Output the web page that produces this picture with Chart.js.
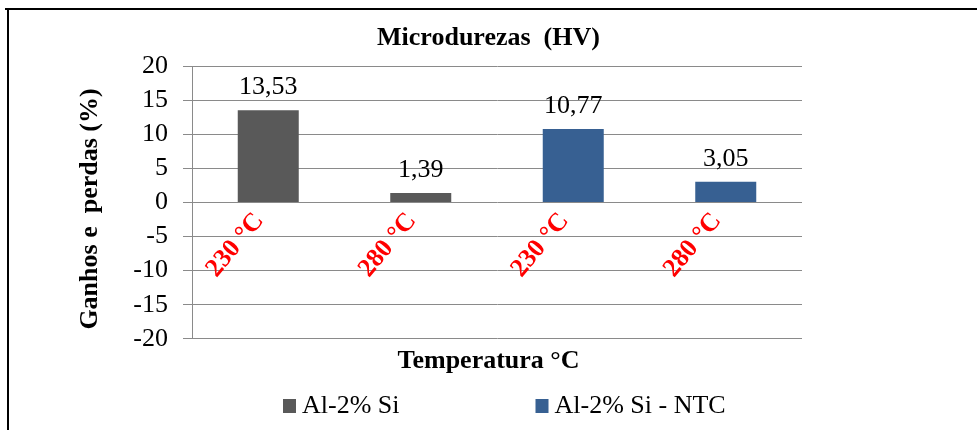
<!DOCTYPE html>
<html>
<head>
<meta charset="utf-8">
<script src="https://cdn.jsdelivr.net/npm/chart.js@4.4.1/dist/chart.umd.min.js"></script>
<style>
  html, body { margin: 0; padding: 0; background: #fff; }
</style>
</head>
<body>
<canvas id="micro" width="977" height="430"></canvas>
<script>
//Data
const temps = ["230 °C", "280 °C", "230 °C", "280 °C"];
const seriesNames = ["Al-2% Si", "Al-2% Si - NTC"];
const alSi = [13.53, 1.39, null, null];
const alSiNtc = [null, null, 10.77, 3.05];
const yMin = -20, yMax = 20, yStep = 5;

const serif = "'Liberation Serif', 'Times New Roman', serif";
const colGray = "#595959";
const colBlue = "#376092";
const gridCol = "#8a8a8a";

//------------------------------------------

//white background + frame lines (top and left only)
const frame = {
  id: 'frame',
  beforeDraw(chart) {
    const {ctx, width, height} = chart;
    ctx.save();
    ctx.fillStyle = '#fff';
    ctx.fillRect(0, 0, width, height);
    ctx.fillStyle = '#000';
    ctx.fillRect(5, 8, width - 5, 2);
    ctx.fillRect(7, 8, 2, height - 8);
    ctx.restore();
  }
};

//value labels above the bars
const valueLabels = {
  id: 'valueLabels',
  afterDatasetsDraw(chart) {
    const {ctx} = chart;
    ctx.save();
    ctx.font = '26px ' + serif;
    ctx.fillStyle = '#000';
    ctx.textAlign = 'center';
    ctx.textBaseline = 'alphabetic';
    chart.data.datasets.forEach((ds, i) => {
      chart.getDatasetMeta(i).data.forEach((bar, j) => {
        const v = ds.data[j];
        if (v === null) return;
        ctx.fillText(v.toFixed(2).replace('.', ','), bar.x, bar.y - 16);
      });
    });
    ctx.restore();
  }
};

//legend at the bottom, spaced like the original
const bottomLegend = {
  id: 'bottomLegend',
  afterDraw(chart) {
    const {ctx} = chart;
    ctx.save();
    ctx.font = '26px ' + serif;
    ctx.textBaseline = 'alphabetic';
    ctx.textAlign = 'left';
    let x = 283;
    const y = 413;
    chart.data.datasets.forEach(ds => {
      ctx.fillStyle = ds.backgroundColor;
      ctx.fillRect(x, y - 14, 13, 14);
      ctx.fillStyle = '#000';
      ctx.fillText(ds.label, x + 19, y);
      x += 19 + ctx.measureText(ds.label).width + 136;
    });
    ctx.restore();
  }
};

//------------------------------------------
const data = {
  labels: temps,
  datasets: [
    {label: seriesNames[0], data: alSi, backgroundColor: colGray},
    {label: seriesNames[1], data: alSiNtc, backgroundColor: colBlue}
  ]
};

const config = {
  type: 'bar',
  data: data,
  options: {
    responsive: false,
    animation: false,
    grouped: false,
    barPercentage: 0.4,
    categoryPercentage: 1.0,
    layout: {padding: {top: 10, left: 0, right: 0, bottom: 53}},
    scales: {
      x: {
        position: {y: 0},
        grid: {display: false, drawTicks: false},
        border: {display: false},
        ticks: {
          color: '#ff0000',
          font: {family: serif, size: 26, weight: 'bold'},
          minRotation: 50, maxRotation: 50,
          autoSkip: false,
          labelOffset: -9,
          padding: 4
        }
      },
      y: {
        min: yMin, max: yMax,
        ticks: {stepSize: yStep, autoSkip: false, color: '#000', font: {family: serif, size: 26}, padding: 15},
        grid: {color: gridCol, lineWidth: 1, tickLength: 9},
        border: {color: gridCol},
        title: {
          display: true,
          text: 'Ganhos e  perdas (%)  ',
          color: '#000',
          font: {family: serif, size: 26, weight: 'bold'},
          padding: {top: 75, bottom: 0}
        },
        afterFit(s) { s.width = 192; }
      },
      yRight: {
        position: 'right',
        grid: {display: false},
        border: {display: false},
        ticks: {display: false},
        afterFit(s) { s.width = 175; }
      }
    },
    plugins: {
      legend: {display: false},
      tooltip: {enabled: false},
      title: {
        display: true,
        text: 'Microdurezas  (HV)',
        color: '#000',
        font: {family: serif, size: 26, weight: 'bold'},
        padding: {top: 13, bottom: 12}
      },
      subtitle: {
        display: true,
        position: 'bottom',
        text: 'Temperatura °C',
        color: '#000',
        font: {family: serif, size: 26, weight: 'bold'},
        padding: {top: 7, bottom: 0}
      }
    }
  },
  plugins: [frame, valueLabels, bottomLegend]
};

//Render chart
const micro = new Chart(document.getElementById('micro'), config);
</script>
</body>
</html>
